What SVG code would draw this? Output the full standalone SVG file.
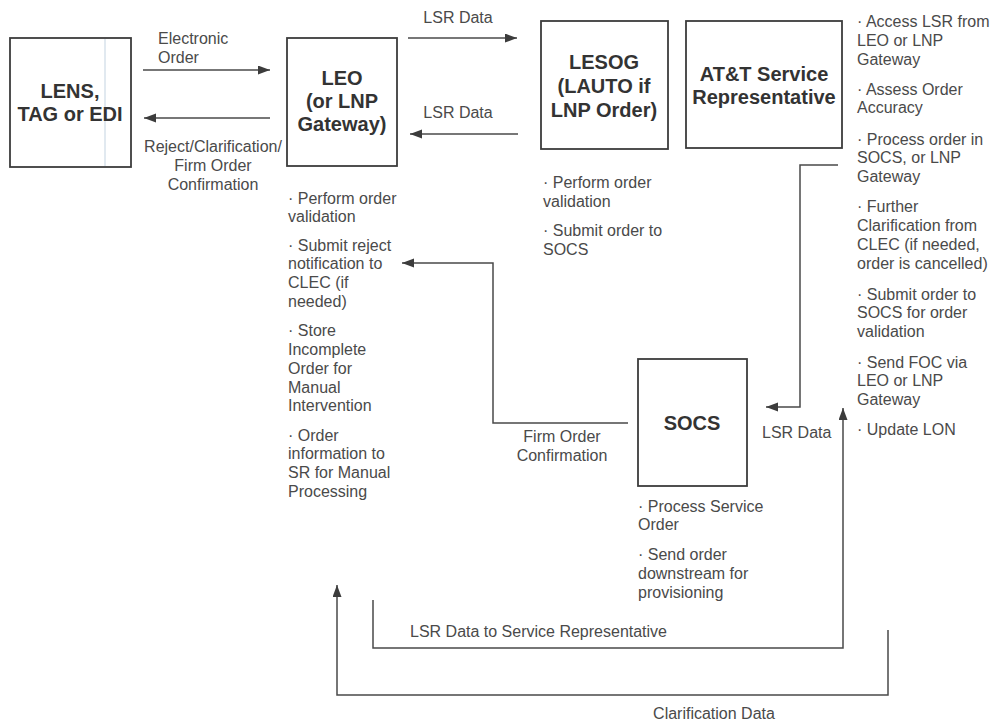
<svg xmlns="http://www.w3.org/2000/svg" width="995" height="723" viewBox="0 0 995 723">
<defs>
<marker id="ah" markerUnits="userSpaceOnUse" markerWidth="13" markerHeight="10" refX="12" refY="4.5" orient="auto">
<path d="M0,0 L12,4.5 L0,9 z" fill="#3c3c3c"/>
</marker>
<style>
.box{fill:#fff;stroke:#3c3c3c;stroke-width:1.8}
.lbl{font-family:"Liberation Sans",Arial,sans-serif;font-weight:bold;font-size:20px;fill:#333;text-anchor:middle}
.t{font-family:"Liberation Sans",Arial,sans-serif;font-size:16px;fill:#4a4a4a}
.c{text-anchor:middle}
.ln{fill:none;stroke:#4a4a4a;stroke-width:1.5}
.arr{marker-end:url(#ah)}
</style>
</defs>
<rect width="995" height="723" fill="#fff"/>

<g id="connectors">
<line class="ln arr" x1="143" y1="70" x2="270" y2="70"/>
<line class="ln arr" x1="270" y1="118" x2="144" y2="118"/>
<line class="ln arr" x1="408" y1="38" x2="517" y2="38"/>
<line class="ln arr" x1="518" y1="134" x2="410" y2="134"/>
<polyline class="ln arr" points="838,165 800,165 800,407 766,407"/>
<polyline class="ln arr" points="628,423 493,423 493,263 402,263"/>
<polyline class="ln arr" points="373,600 373,648 843,648 843,408"/>
<polyline class="ln arr" points="888,630 888,695 337,695 337,585"/>
<text class="t" x="158" y="44">Electronic</text>
<text class="t" x="158" y="63">Order</text>
<text class="t c" x="213" y="152">Reject/Clarification/</text>
<text class="t c" x="213" y="171">Firm Order</text>
<text class="t c" x="213" y="190">Confirmation</text>
<text class="t c" x="458" y="23">LSR Data</text>
<text class="t c" x="458" y="118">LSR Data</text>
<text class="t c" x="562" y="442">Firm Order</text>
<text class="t c" x="562" y="461">Confirmation</text>
<text class="t" x="762" y="438">LSR Data</text>
<text class="t" x="410" y="637">LSR Data to Service Representative</text>
<text class="t c" x="714" y="719">Clarification Data</text>
</g>

<g id="lens">
<rect class="box" x="10" y="38" width="121" height="129"/>
<line x1="105" y1="39" x2="105" y2="166" stroke="#cddbe6" stroke-width="1.2"/>
<text class="lbl" x="70" y="98">LENS,</text>
<text class="lbl" x="70" y="121">TAG or EDI</text>
</g>

<g id="leo">
<rect class="box" x="287" y="38" width="110" height="128"/>
<text class="lbl" x="342" y="85">LEO</text>
<text class="lbl" x="342" y="108">(or LNP</text>
<text class="lbl" x="342" y="131">Gateway)</text>
</g>

<g id="leo-tasks">
<text class="t" x="288" y="204">· Perform order</text>
<text class="t" x="288" y="222">validation</text>
<text class="t" x="288" y="251">· Submit reject</text>
<text class="t" x="288" y="269">notification to</text>
<text class="t" x="288" y="288">CLEC (if</text>
<text class="t" x="288" y="307">needed)</text>
<text class="t" x="288" y="336">· Store</text>
<text class="t" x="288" y="355">Incomplete</text>
<text class="t" x="288" y="374">Order for</text>
<text class="t" x="288" y="393">Manual</text>
<text class="t" x="288" y="411">Intervention</text>
<text class="t" x="288" y="441">· Order</text>
<text class="t" x="288" y="459">information to</text>
<text class="t" x="288" y="478">SR for Manual</text>
<text class="t" x="288" y="497">Processing</text>
</g>

<g id="lesog">
<rect class="box" x="541" y="21" width="127" height="128"/>
<text class="lbl" x="604" y="69">LESOG</text>
<text class="lbl" x="604" y="93">(LAUTO if</text>
<text class="lbl" x="604" y="117">LNP Order)</text>
</g>

<g id="lesog-tasks">
<text class="t" x="543" y="188">· Perform order</text>
<text class="t" x="543" y="207">validation</text>
<text class="t" x="543" y="236">· Submit order to</text>
<text class="t" x="543" y="255">SOCS</text>
</g>

<g id="att">
<rect class="box" x="686" y="21" width="156" height="127"/>
<text class="lbl" x="764" y="81">AT&amp;T Service</text>
<text class="lbl" x="764" y="104">Representative</text>
</g>

<g id="att-tasks">
<text class="t" x="857" y="27">· Access LSR from</text>
<text class="t" x="857" y="46">LEO or LNP</text>
<text class="t" x="857" y="65">Gateway</text>
<text class="t" x="857" y="95">· Assess Order</text>
<text class="t" x="857" y="113">Accuracy</text>
<text class="t" x="857" y="145">· Process order in</text>
<text class="t" x="857" y="163">SOCS, or LNP</text>
<text class="t" x="857" y="182">Gateway</text>
<text class="t" x="857" y="212">· Further</text>
<text class="t" x="857" y="231">Clarification from</text>
<text class="t" x="857" y="250">CLEC (if needed,</text>
<text class="t" x="857" y="269">order is cancelled)</text>
<text class="t" x="857" y="300">· Submit order to</text>
<text class="t" x="857" y="318">SOCS for order</text>
<text class="t" x="857" y="337">validation</text>
<text class="t" x="857" y="368">· Send FOC via</text>
<text class="t" x="857" y="386">LEO or LNP</text>
<text class="t" x="857" y="405">Gateway</text>
<text class="t" x="857" y="435">· Update LON</text>
</g>

<g id="socs">
<rect class="box" x="638" y="359" width="109" height="127"/>
<text class="lbl" x="692" y="430">SOCS</text>
</g>

<g id="socs-tasks">
<text class="t" x="638" y="512">· Process Service</text>
<text class="t" x="638" y="530">Order</text>
<text class="t" x="638" y="560">· Send order</text>
<text class="t" x="638" y="579">downstream for</text>
<text class="t" x="638" y="598">provisioning</text>
</g>
</svg>
